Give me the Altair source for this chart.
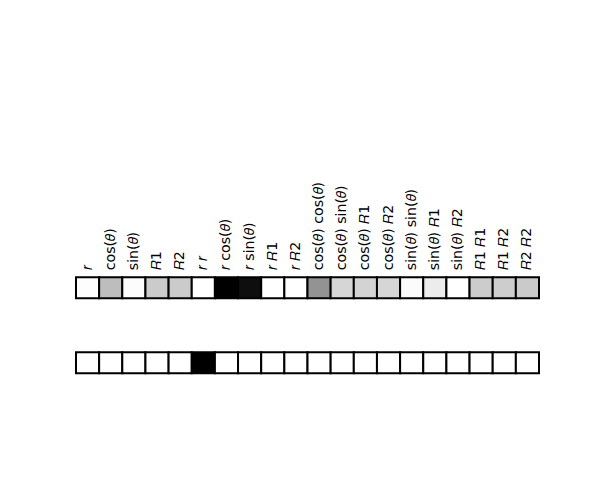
import altair as alt
import pandas as pd

# Feature labels (math italic via Unicode)
labels = [
    "𝑟", "cos(𝜃)", "sin(𝜃)", "𝑅1", "𝑅2",
    "𝑟 𝑟", "𝑟 cos(𝜃)", "𝑟 sin(𝜃)", "𝑟 𝑅1", "𝑟 𝑅2",
    "cos(𝜃) cos(𝜃)", "cos(𝜃) sin(𝜃)", "cos(𝜃) 𝑅1", "cos(𝜃) 𝑅2",
    "sin(𝜃) sin(𝜃)", "sin(𝜃) 𝑅1", "sin(𝜃) 𝑅2",
    "𝑅1 𝑅1", "𝑅1 𝑅2", "𝑅2 𝑅2",
]
# grey level of each cell (0 = black, 255 = white)
top_gray = [253, 189, 252, 203, 203, 255, 0, 14, 255, 255,
            147, 214, 211, 214, 251, 236, 255, 204, 205, 202]
bottom_gray = [255, 255, 255, 255, 255, 0, 255, 255, 255, 255,
               255, 255, 255, 255, 255, 255, 255, 255, 255, 255]

rows = []
for i, (lab, g) in enumerate(zip(labels, top_gray)):
    rows.append({"idx": i, "row": 0, "gray": g, "label": lab})
for i, g in enumerate(bottom_gray):
    rows.append({"idx": i, "row": 1, "gray": g, "label": ""})
df = pd.DataFrame(rows)

xs = alt.Scale(domain=[-2.937, 22.289], nice=False, zero=False)
ys = alt.Scale(domain=[-3.73, 2.723], nice=False, zero=False, reverse=True)

base = alt.Chart(df).transform_calculate(
    x0="datum.idx", x1="datum.idx + 1", xc="datum.idx + 0.5",
    y0="datum.row - 0.14", y1="datum.row + 0.14",
)

cells = base.mark_rect(stroke="black", strokeWidth=2).encode(
    x=alt.X("x0:Q", scale=xs, axis=None),
    x2="x1:Q",
    y=alt.Y("y0:Q", scale=ys, axis=None),
    y2="y1:Q",
    color=alt.Color("gray:Q", scale=alt.Scale(domain=[0, 255], range=["#000000", "#ffffff"], interpolate="rgb"), legend=None),
)

texts = base.transform_filter("datum.row == 0").mark_text(
    angle=270, align="left", baseline="middle", dx=7,
    font="DejaVu Sans", fontSize=14.2, color="black",
).encode(
    x=alt.X("xc:Q", scale=xs, axis=None),
    y=alt.Y("y0:Q", scale=ys, axis=None),
    text="label:N",
)

chart = alt.layer(cells, texts).properties(
    width=584, height=484, autosize=alt.AutoSizeParams(type="none"), padding=0,
    background="white",
).configure_view(stroke=None)

chart.save("out.html", embed_options={"renderer": "svg", "actions": False})
